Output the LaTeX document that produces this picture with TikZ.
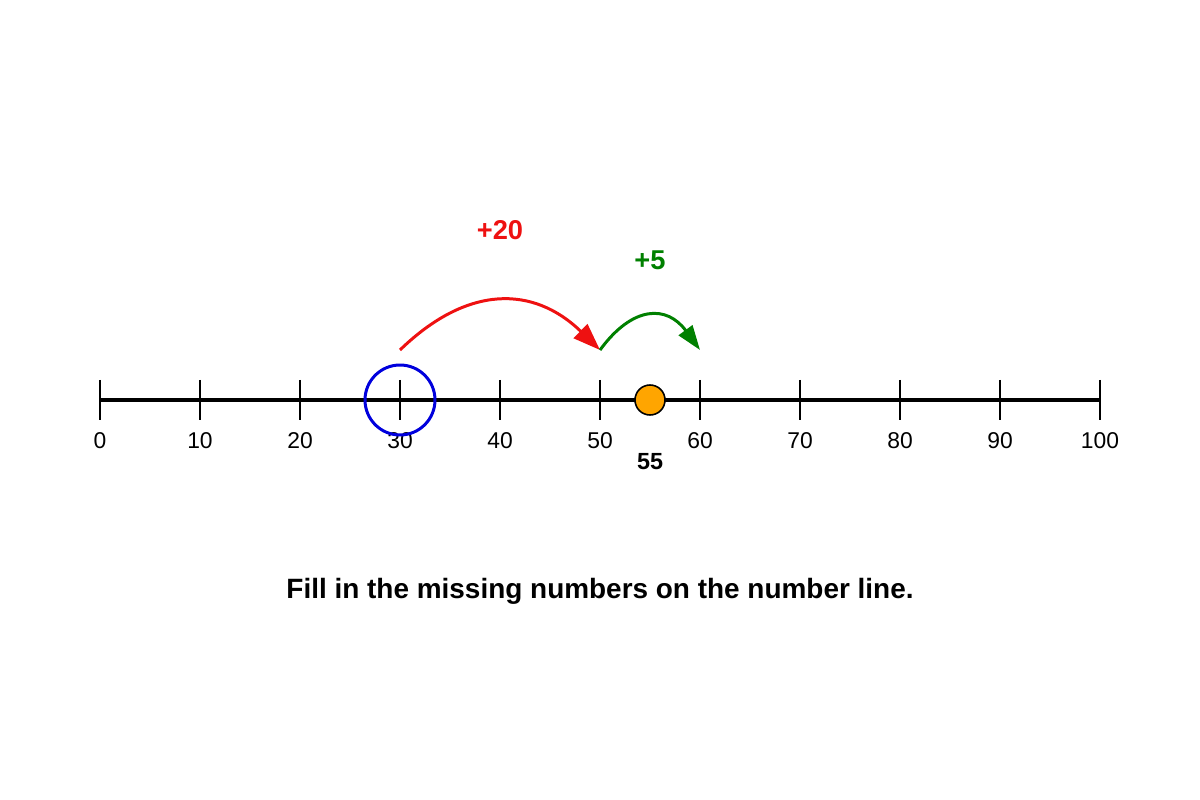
\documentclass[tikz,border=0pt]{standalone}
\usepackage{fontspec}
\setmainfont{Liberation Sans}
\usetikzlibrary{arrows.meta}
\definecolor{jumpred}{RGB}{238,17,17}
\definecolor{jumpgreen}{RGB}{0,128,0}
\definecolor{ringblue}{RGB}{0,0,221}
\definecolor{dotorange}{RGB}{255,165,0}
\tikzset{
  axisline/.style={line width=1.9pt},
  tickline/.style={line width=1.1pt},
  ticklabel/.style={font=\fontsize{13}{15}\selectfont},
  jumplabel/.style={font=\fontsize{15.5}{18}\selectfont\bfseries},
  jump/.style={line width=1.7pt}
}
\begin{document}
\begin{tikzpicture}[x=0.02cm,y=-0.02cm]
\useasboundingbox (0,0) rectangle (1200,800);
% number line
\draw[axisline] (100,400) -- (1100,400);
\foreach \n in {0,10,...,100}{
  \coordinate (t\n) at (100+10*\n,400);
  \coordinate (a\n) at (100+10*\n,350);
  \draw[tickline] (100+10*\n,380) -- (100+10*\n,420);
  \node[ticklabel] (l\n) at (100+10*\n,441) {\n};
}
% marks
\node[draw=ringblue,line width=1.7pt,circle,minimum size=1.4cm,inner sep=0pt] (ring30) at (t30) {};
\node[draw=black,fill=dotorange,line width=0.9pt,circle,minimum size=0.6cm,inner sep=0pt] (dot55) at (650,400) {};
\node[font=\fontsize{13.3}{15}\selectfont\bfseries] (val55) at (650,462) {55};
% jumps
\draw[jump,jumpred,-{Triangle[length=15.5pt,width=11pt]}] (a30) .. controls +(67,-65) and +(-67,-65) .. (a50);
\draw[jump,jumpgreen,-{Triangle[length=14pt,width=9.5pt]}] (a50) .. controls +(33,-45) and +(-33,-45) .. (a60);
\node[jumplabel,text=jumpred] (plus20) at (500,230) {+20};
\node[jumplabel,text=jumpgreen] (plus5) at (650,260) {+5};
% caption
\node[font=\fontsize{15.9}{19}\selectfont\bfseries] (caption) at (600,591) {Fill in the missing numbers on the number line.};
\end{tikzpicture}
\end{document}
